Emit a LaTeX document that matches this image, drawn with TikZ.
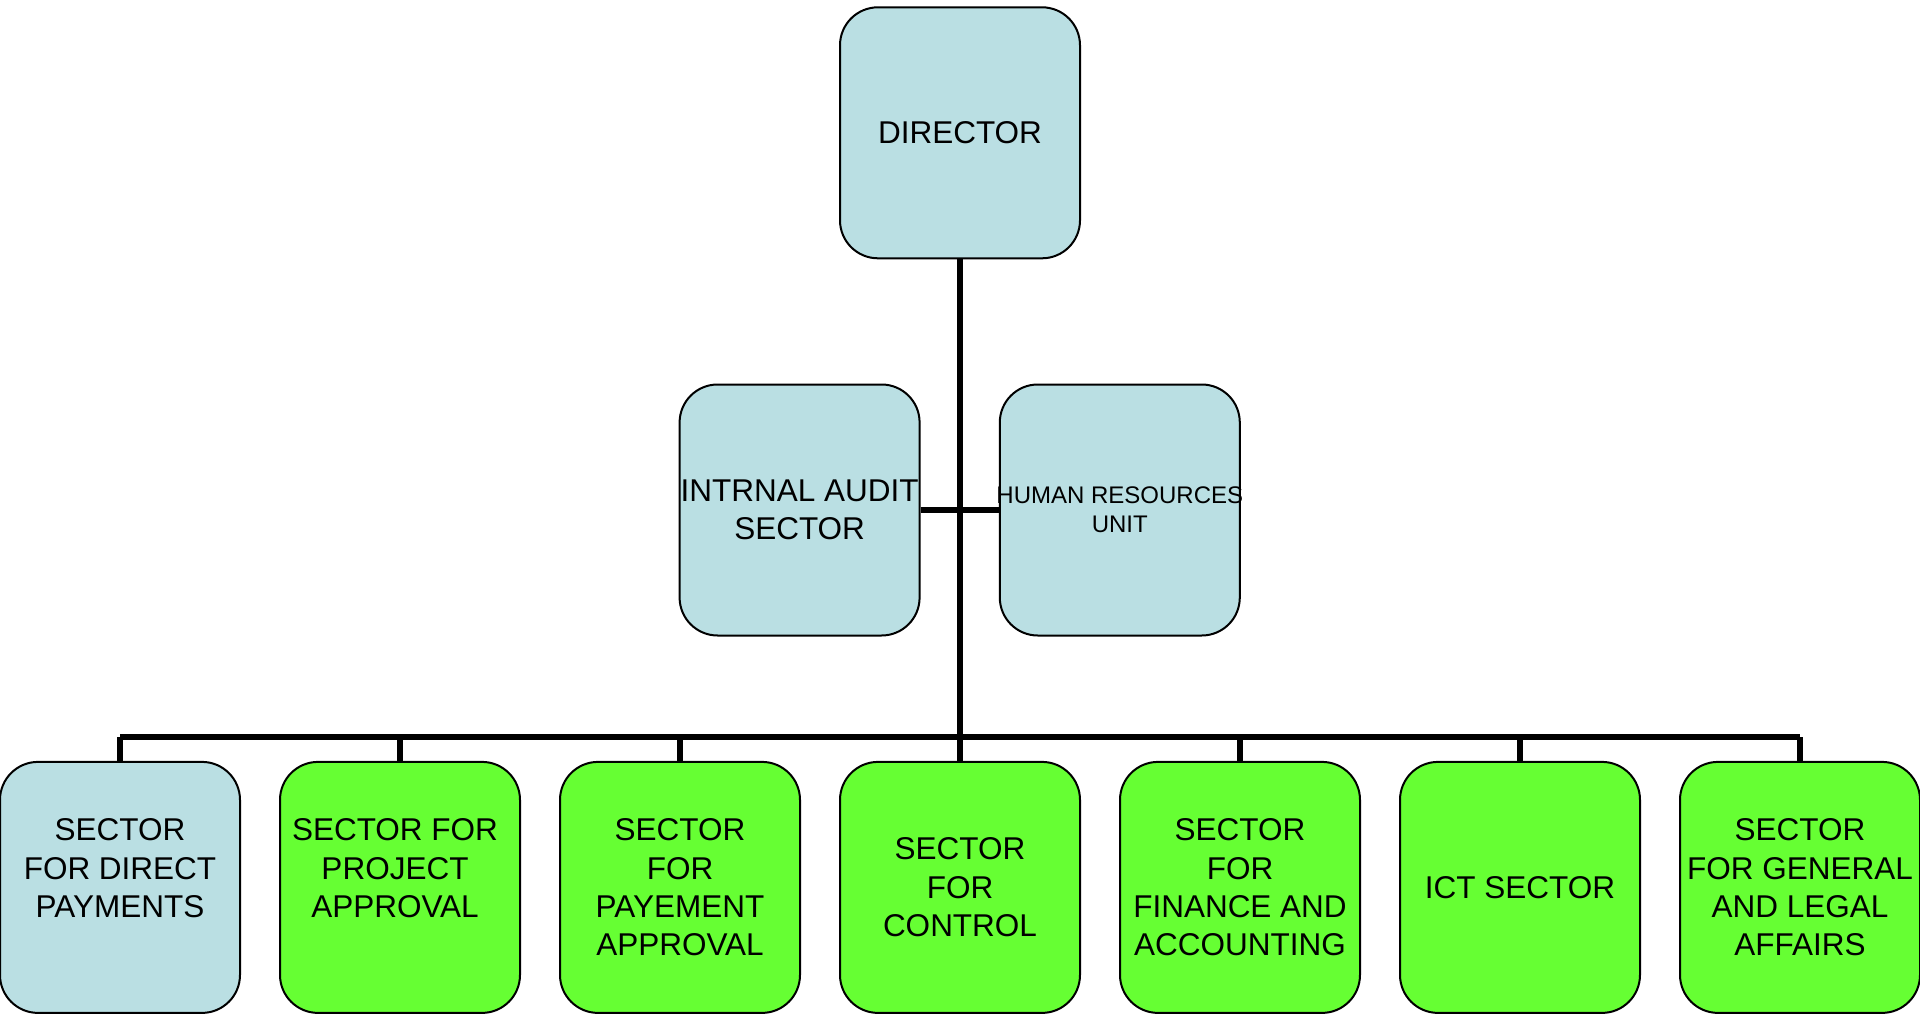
\documentclass[tikz,border=0pt]{standalone}
\usepackage{fontspec}
\setmainfont{Liberation Sans}
\definecolor{boxblue}{HTML}{BADFE3}
\definecolor{boxgreen}{HTML}{66FF33}
\begin{document}
\begin{tikzpicture}[x=1pt,y=-1pt,
  unit/.style={draw=black, line width=2pt, rounded corners=38pt,
    minimum width=240pt, minimum height=251pt, inner sep=0pt,
    align=center, font=\fontsize{31.5}{38.3}\selectfont},
  blueunit/.style={unit, fill=boxblue},
  greenunit/.style={unit, fill=boxgreen},
  link/.style={line width=6pt}]
\useasboundingbox (0,0) rectangle (1920,1014);
\coordinate (bus) at (960,737);
\node[blueunit] (dir) at (960,132.8) {DIRECTOR};
\node[blueunit] (ia) at (799.6,510) {\makebox[200pt]{INTRNAL AUDIT}\\SECTOR};
\node[blueunit, font=\fontsize{24}{29.4}\selectfont] (hr) at (1119.8,510) {\makebox[200pt]{HUMAN RESOURCES}\\UNIT};
\node[blueunit] (b1) at (120,887.4) {SECTOR\\FOR DIRECT\\PAYMENTS\\\phantom{X}};
\node[greenunit] (b2) at (400,887.4) {\hspace{-10pt}SECTOR FOR\\\hspace{-10pt}PROJECT\\\hspace{-10pt}APPROVAL\\\phantom{X}};
\node[greenunit] (b3) at (680,887.4) {SECTOR\\FOR\\PAYEMENT\\APPROVAL};
\node[greenunit] (b4) at (960,887.4) {SECTOR\\FOR\\CONTROL};
\node[greenunit] (b5) at (1240,887.4) {SECTOR\\FOR\\FINANCE AND\\ACCOUNTING};
\node[greenunit] (b6) at (1520,887.4) {ICT SECTOR};
\node[greenunit] (b7) at (1800,887.4) {SECTOR\\FOR GENERAL\\AND LEGAL\\AFFAIRS};
\draw[link] (dir.south) -- (bus);
\draw[link] (ia.east) -- (hr.west);
\draw[link] (b1.north |- bus) -- (b7.north |- bus);
\foreach \n in {b1,b2,b3,b4,b5,b6,b7}
  \draw[link] (\n.north) -- (\n.north |- bus);
\end{tikzpicture}
\end{document}
